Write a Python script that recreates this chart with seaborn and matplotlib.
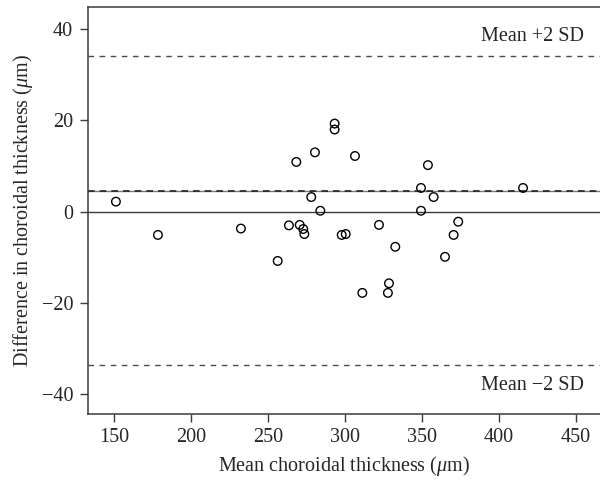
import matplotlib
matplotlib.use('Agg')
import matplotlib.pyplot as plt
import pandas as pd
import seaborn as sns

# Bland-Altman data
mean_thick = [151.1, 178.4, 232.3, 256.2, 263.5, 268.3, 270.5, 272.8, 273.5, 278.0,
              280.4, 283.9, 293.2, 293.2, 297.8, 300.4, 306.4, 311.2, 322.0, 327.8,
              328.5, 332.6, 349.3, 349.3, 353.8, 357.5, 364.9, 370.5, 373.5, 415.6]
diff_thick = [2.2, -5.1, -3.7, -10.8, -3.0, 10.9, -2.9, -3.8, -4.9, 3.2,
              13.0, 0.2, 19.3, 18.0, -5.1, -4.9, 12.2, -17.8, -2.9, -17.8,
              -15.7, -7.7, 5.2, 0.2, 10.2, 3.2, -9.9, -5.1, -2.2, 5.2]
mean_diff = 4.6
upper_loa = 34.1
lower_loa = -33.5
zero_line = 0

df = pd.DataFrame({'mean': mean_thick, 'diff': diff_thick})

sns.set_style('ticks')
plt.rcParams['font.family'] = ['Liberation Serif', 'DejaVu Serif']
plt.rcParams['mathtext.fontset'] = 'custom'
plt.rcParams['mathtext.it'] = 'Liberation Serif:italic'
plt.rcParams['mathtext.rm'] = 'Liberation Serif'

fig = plt.figure(figsize=(6, 4.84), dpi=100)
ax = fig.add_axes([0.146, 0.145, 0.854, 0.841])

dark = '#3a3a3a'
ax.axhline(zero_line, color=dark, lw=1.0, zorder=1)
ax.axhline(mean_diff, color='#777777', lw=1.0, zorder=1)
ax.axhline(mean_diff, color='#222222', lw=1.2, dashes=(4, 3), zorder=1)
ax.axhline(upper_loa, color='#4a4a4a', lw=1.0, dashes=(4, 4), zorder=1)
ax.axhline(lower_loa, color='#4a4a4a', lw=1.0, dashes=(4, 4), zorder=1)

sns.scatterplot(data=df, x='mean', y='diff', marker='o', s=38,
                facecolors='none', edgecolors='black', linewidths=1.0,
                ax=ax, zorder=3)

ax.text(455, 38.3, 'Mean +2 SD', ha='right', va='center', fontsize=14.5)
ax.text(455, -38.0, 'Mean \u22122 SD', ha='right', va='center', fontsize=14.5)

ax.set_xlim(132.7, 465.6)
ax.set_ylim(-44.3, 44.9)
ax.set_xticks([150, 200, 250, 300, 350, 400, 450])
ax.set_yticks([-40, -20, 0, 20, 40])
ax.set_xlabel(r'Mean choroidal thickness ($\mathit{\mu}$m)', fontsize=14.5, labelpad=5)
ax.set_ylabel(r'Difference in choroidal thickness ($\mathit{\mu}$m)', fontsize=14.5, labelpad=5)
ax.tick_params(labelsize=14.5, length=5.5, width=1.0, color=dark, pad=5)
for side in ['left', 'bottom', 'top']:
    ax.spines[side].set_color(dark)
    ax.spines[side].set_linewidth(1.1)
ax.spines['right'].set_visible(False)

fig.savefig('out.png', dpi=100)
